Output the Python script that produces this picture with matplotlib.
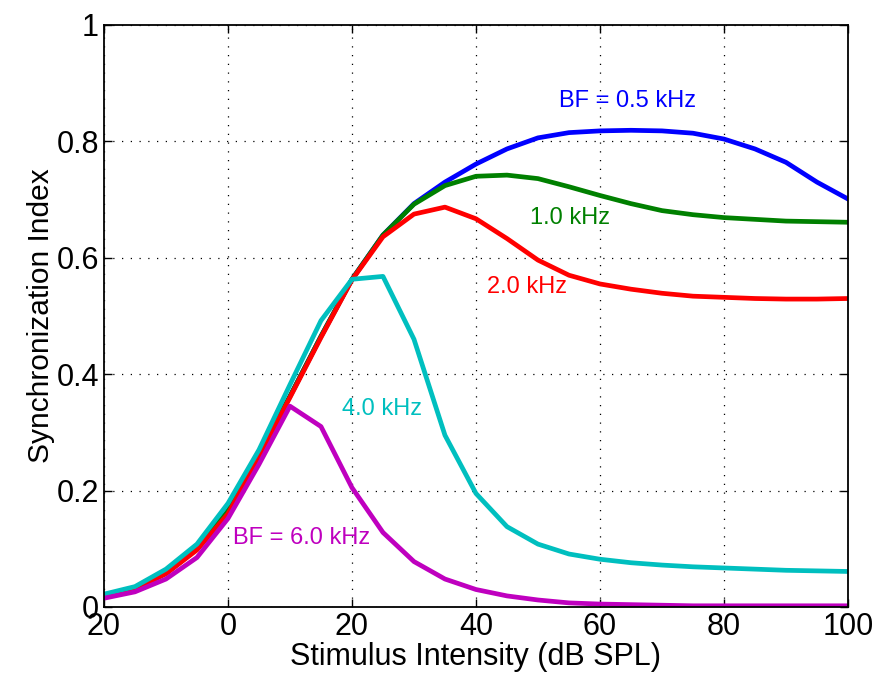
import matplotlib
matplotlib.use("Agg")
import matplotlib.pyplot as plt

plt.rcParams['font.family'] = ['Liberation Sans', 'DejaVu Sans']

# stimulus levels (dB SPL)
levels = [-20, -15, -10, -5, 0, 5, 10, 15, 20, 25, 30, 35, 40, 45, 50,
          55, 60, 65, 70, 75, 80, 85, 90, 95, 100]

si_05 = [0.018, 0.032, 0.058, 0.100, 0.165, 0.262, 0.362, 0.465, 0.563, 0.639,
         0.693, 0.730, 0.761, 0.787, 0.806, 0.815, 0.818, 0.819, 0.818, 0.814,
         0.804, 0.787, 0.764, 0.730, 0.701]
si_10 = [0.018, 0.032, 0.058, 0.100, 0.165, 0.262, 0.362, 0.465, 0.563, 0.639,
         0.692, 0.724, 0.740, 0.742, 0.736, 0.722, 0.707, 0.693, 0.681, 0.674,
         0.669, 0.666, 0.663, 0.662, 0.661]
si_20 = [0.018, 0.032, 0.057, 0.098, 0.160, 0.258, 0.360, 0.463, 0.562, 0.636,
         0.675, 0.687, 0.667, 0.633, 0.596, 0.570, 0.555, 0.546, 0.539, 0.534,
         0.532, 0.530, 0.529, 0.529, 0.530]
si_40 = [0.022, 0.035, 0.065, 0.108, 0.178, 0.270, 0.382, 0.492, 0.563, 0.568,
         0.460, 0.295, 0.195, 0.138, 0.108, 0.091, 0.082, 0.076, 0.072, 0.069,
         0.067, 0.065, 0.063, 0.062, 0.061]
si_60 = [0.015, 0.026, 0.048, 0.085, 0.152, 0.245, 0.345, 0.310, 0.205, 0.128,
         0.078, 0.048, 0.030, 0.019, 0.012, 0.007, 0.005, 0.004, 0.003, 0.002,
         0.002, 0.002, 0.002, 0.002, 0.002]

series = [si_05, si_10, si_20, si_40, si_60]
colors = ['#0000ff', '#008000', '#ff0000', '#00bfbf', '#bf00bf']
labels = ['BF = 0.5 kHz', '1.0 kHz', '2.0 kHz', '4.0 kHz', 'BF = 6.0 kHz']
label_pos = [(64.4, 0.869), (55.2, 0.668), (48.2, 0.55), (24.8, 0.34), (11.9, 0.118)]

x_ticks = [-20, 0, 20, 40, 60, 80, 100]
x_ticklabels = ['20', '0', '20', '40', '60', '80', '100']
y_ticks = [0, 0.2, 0.4, 0.6, 0.8, 1]
y_ticklabels = ['0', '0.2', '0.4', '0.6', '0.8', '1']

fig = plt.figure(figsize=(8.76, 6.8), dpi=100)
ax = fig.add_axes([0.1187, 0.1074, 0.8493, 0.8559])

for s, c in zip(series, colors):
    ax.plot(levels, s, color=c, lw=3.4)

for (tx, ty), lab, c in zip(label_pos, labels, colors):
    ax.text(tx, ty, lab, color=c, fontsize=17, ha='center', va='center')

ax.set_xlim(-20, 100)
ax.set_ylim(0, 1)
ax.set_xticks(x_ticks)
ax.set_xticklabels(x_ticklabels)
ax.set_yticks(y_ticks)
ax.set_yticklabels(y_ticklabels)
ax.grid(True, color='black', linestyle=(0, (1, 6)), linewidth=0.9)
ax.tick_params(direction='in', top=True, right=True, labelsize=22, length=6, width=1)
for sp in ax.spines.values():
    sp.set_linewidth(1.3)
ax.set_xlabel('Stimulus Intensity (dB SPL)', fontsize=22, labelpad=0)
ax.set_ylabel('Synchronization Index', fontsize=21.5, labelpad=1)

fig.savefig('out.png', dpi=100)
